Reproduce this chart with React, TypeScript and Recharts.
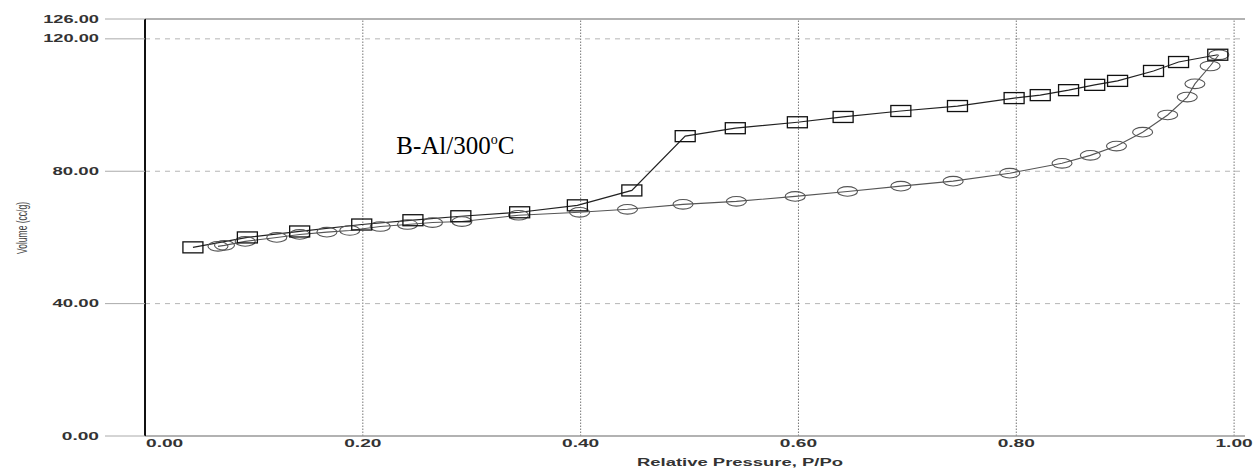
import React from "react";
import {
  LineChart,
  Line,
  XAxis,
  YAxis,
  ReferenceLine,
  ReferenceArea,
} from "recharts";

// Desorption branch (squares)
const desorptionP = [
  0.044, 0.094, 0.142, 0.199, 0.246, 0.29, 0.344, 0.397, 0.447, 0.496, 0.542,
  0.599, 0.641, 0.694, 0.746, 0.798, 0.822, 0.848, 0.872, 0.893, 0.926, 0.949,
  0.985,
];
const desorptionV = [
  57.0, 60.0, 61.8, 63.9, 65.2, 66.4, 67.6, 69.7, 74.2, 90.6, 93.0, 94.8, 96.4,
  98.2, 99.7, 102.1, 103.0, 104.5, 106.1, 107.3, 110.3, 113.0, 115.2,
];

// Adsorption branch (circles)
const adsorptionP = [
  0.067, 0.073, 0.092, 0.121, 0.142, 0.167, 0.188, 0.216, 0.241, 0.264, 0.291,
  0.343, 0.399, 0.443, 0.494, 0.543, 0.597, 0.645, 0.694, 0.742, 0.794, 0.842,
  0.868, 0.892, 0.916, 0.939, 0.957, 0.964, 0.978, 0.986,
];
const adsorptionV = [
  57.3, 57.6, 58.8, 60.0, 60.9, 61.6, 62.1, 63.3, 63.9, 64.5, 64.8, 66.7, 67.6,
  68.5, 70.0, 70.9, 72.4, 73.9, 75.5, 77.0, 79.4, 82.4, 84.8, 87.6, 91.8, 97.0,
  102.4, 106.4, 111.8, 115.2,
];

const xTicks = [0, 0.2, 0.4, 0.6, 0.8, 1.0];
const yTicks = [0, 40, 80, 120, 126];
const yGridLines = [40, 80, 120];
const xGridLines = [0.2, 0.4, 0.6, 0.8, 1.0];

const xLabel = "Relative Pressure, P/Po";
const yLabel = "Volume (cc/g)";
const sampleLabel = "B-Al/300";

const desorption = desorptionP.map((x, i) => ({ x, y: desorptionV[i] }));
const adsorption = adsorptionP.map((x, i) => ({ x, y: adsorptionV[i] }));

const CHAR_W = 9.3;
const TICK_FONT = "'Liberation Sans', Arial, sans-serif";

const YTick = (props: any) => {
  const { x, y, payload } = props;
  const label = Number(payload.value).toFixed(2);
  return (
    <text
      x={x}
      y={y}
      dy="0.36em"
      textAnchor="end"
      fontFamily={TICK_FONT}
      fontWeight="bold"
      fontSize={10}
      fill="#333"
      textLength={label.length * CHAR_W}
      lengthAdjust="spacingAndGlyphs"
    >
      {label}
    </text>
  );
};

const XTick = (props: any) => {
  const { x, y, payload, index } = props;
  const label = Number(payload.value).toFixed(2);
  const w = label.length * CHAR_W;
  return (
    <text
      x={index === 0 ? x + 1 : x}
      y={y + 9}
      textAnchor={index === 0 ? "start" : "middle"}
      fontFamily={TICK_FONT}
      fontWeight="bold"
      fontSize={10}
      fill="#333"
      textLength={w}
      lengthAdjust="spacingAndGlyphs"
    >
      {label}
    </text>
  );
};

const SquareDot = (props: any) => {
  const { cx, cy, index } = props;
  if (cx == null || cy == null) return <g key={`s${index}`} />;
  return (
    <rect
      key={`s${index}`}
      x={cx - 10}
      y={cy - 5.5}
      width={20}
      height={11}
      fill="none"
      stroke="#111"
      strokeWidth={1.3}
    />
  );
};

const CircleDot = (props: any) => {
  const { cx, cy, index } = props;
  if (cx == null || cy == null) return <g key={`c${index}`} />;
  return (
    <ellipse
      key={`c${index}`}
      cx={cx}
      cy={cy}
      rx={10}
      ry={4.8}
      fill="none"
      stroke="#555"
      strokeWidth={1.1}
    />
  );
};

const TitleLabel = (props: any) => {
  const vb = props.viewBox || {};
  const cx = vb.x + vb.width / 2;
  const cy = vb.y + vb.height / 2;
  return (
    <text
      x={cx}
      y={cy + 1}
      textAnchor="middle"
      fontFamily="'Liberation Serif', 'Times New Roman', serif"
      fontSize={25}
      fill="#000"
    >
      {sampleLabel}
      <tspan fontSize={14} dy={-10}>
        o
      </tspan>
      <tspan dy={10}>C</tspan>
    </text>
  );
};

const YAxisTitle = () => (
  <text
    transform="translate(22,228) rotate(-90) scale(1,1.7)"
    textAnchor="middle"
    fontFamily={TICK_FONT}
    fontSize={8.5}
    fill="#444"
    dy="0.35em"
  >
    {yLabel}
  </text>
);

const XAxisTitle = (props: any) => {
  const vb = props.viewBox || {};
  return (
    <text
      x={740}
      y={vb.y + 30}
      textAnchor="middle"
      fontFamily={TICK_FONT}
      fontWeight="bold"
      fontSize={10}
      fill="#333"
      textLength={206}
      lengthAdjust="spacingAndGlyphs"
    >
      {xLabel}
    </text>
  );
};

export default function App() {
  return (
    <div
      style={{
        position: "absolute",
        left: 0,
        top: 0,
        width: 1253,
        height: 468,
        background: "#fff",
        overflow: "hidden",
      }}
    >
      <LineChart
        width={1253}
        height={468}
        margin={{ top: 19, right: 8, bottom: 0, left: 0 }}
      >
        <XAxis
          type="number"
          dataKey="x"
          domain={[0, 1.01]}
          ticks={xTicks}
          interval={0}
          allowDataOverflow
          axisLine={{ stroke: "#999", strokeWidth: 1.5 }}
          tickLine={false}
          tickSize={0}
          tickMargin={2}
          tick={<XTick />}
          height={32}
          label={<XAxisTitle />}
        />
        <YAxis
          type="number"
          dataKey="y"
          domain={[0, 126]}
          ticks={yTicks}
          interval={0}
          allowDataOverflow
          width={145}
          axisLine={{ stroke: "#111", strokeWidth: 2 }}
          tickLine={{ stroke: "#aaa", strokeWidth: 1 }}
          tickSize={40}
          tickMargin={6}
          tick={<YTick />}
          label={<YAxisTitle />}
        />
        {yGridLines.map((v) => (
          <ReferenceLine
            key={`h${v}`}
            y={v}
            stroke="#b5b5b5"
            strokeWidth={1}
            strokeDasharray="5 5"
          />
        ))}
        {xGridLines.map((v) => (
          <ReferenceLine
            key={`v${v}`}
            x={v}
            stroke="#777"
            strokeWidth={1}
            strokeDasharray="1.5 1.5"
          />
        ))}
        <ReferenceLine y={126} stroke="#999" strokeWidth={1.5} />
        <ReferenceArea
          x1={0.186}
          x2={0.384}
          y1={74.5}
          y2={96.7}
          fill="#fff"
          fillOpacity={1}
          stroke="none"
          label={<TitleLabel />}
        />
        <Line
          data={adsorption}
          dataKey="y"
          type="linear"
          stroke="#555"
          strokeWidth={1.1}
          dot={<CircleDot />}
          activeDot={false}
          isAnimationActive={false}
        />
        <Line
          data={desorption}
          dataKey="y"
          type="linear"
          stroke="#222"
          strokeWidth={1.2}
          dot={<SquareDot />}
          activeDot={false}
          isAnimationActive={false}
        />
      </LineChart>
    </div>
  );
}
